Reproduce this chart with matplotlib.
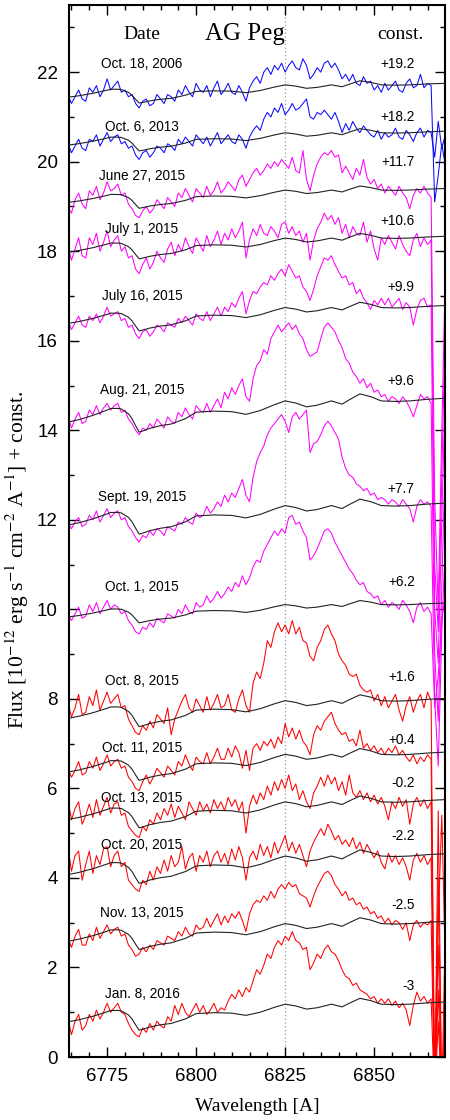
import numpy as np
import matplotlib
matplotlib.use("Agg")
import matplotlib.pyplot as plt
from matplotlib.ticker import MultipleLocator

plt.rcParams['mathtext.fontset'] = 'stix'

# ---------------- data ----------------
dates = ["Oct. 18, 2006", "Oct. 6, 2013", "June 27, 2015", "July 1, 2015",
         "July 16, 2015", "Aug. 21, 2015", "Sept. 19, 2015", "Oct. 1, 2015",
         "Oct. 8, 2015", "Oct. 11, 2015", "Oct. 13, 2015", "Oct. 20, 2015",
         "Nov. 13, 2015", "Jan. 8, 2016"]
consts = ["+19.2", "+18.2", "+11.7", "+10.6", "+9.9", "+9.6", "+7.7", "+6.2",
          "+1.6", "+0.4", "-0.2", "-2.2", "-2.5", "-3"]
colors = ["#0a0aff", "#0a0aff"] + ["#ff00ff"] * 6 + ["#ff0000"] * 6
date_y = [22.19, 20.78, 19.69, 18.5, 17.0, 14.9, 12.5, 10.49, 8.39, 6.91, 5.79, 4.74, 3.22, 1.41]
const_y = [22.19, 21.0, 20.0, 18.68, 17.2, 15.1, 12.68, 10.6, 8.48, 7.09, 6.11, 4.94, 3.4, 1.59]

wl_start = 6764  # first wavelength sample, 1 A step

s2006 = ([21.5, 21.3, 21.45, 21.6, 21.4, 21.35, 21.65, 21.55, 21.7, 21.45, 21.6, 21.85, 21.6]
         + [21.7, 21.8, 21.55, 21.6, 21.45, 21.5, 21.3, 21.2, 21.35, 21.4, 21.25, 21.3, 21.5]
         + [21.4, 21.3, 21.5, 21.45, 21.35, 21.6, 21.5, 21.7, 21.55, 21.45, 21.75, 21.6, 21.55, 21.7, 21.45, 21.65, 21.8, 21.5]
         + [21.6, 21.75, 21.55, 21.5, 21.7, 21.55, 21.35, 21.65, 21.8, 21.9, 21.75, 22.0, 22.1, 21.95, 22.15,
            22.05, 22.2, 22.0, 22.15, 22.25, 22.1, 22.05, 22.3, 22.15, 21.85, 21.95, 22.1, 22.0, 22.2, 22.25,
            22.1, 22.2, 22.05, 21.85, 21.95, 21.8, 21.95, 21.75, 21.7, 21.9, 21.75, 21.8, 21.6, 21.7, 21.55]
         + [21.75, 21.6, 21.7, 21.8, 21.6, 21.55, 21.75, 21.85, 21.65, 21.7, 21.95, 21.65, 21.75, 21.7]
         + [19.1, 19.7, 20.4, 19.9])

s2013 = ([20.4, 20.2, 20.35, 20.5, 20.3, 20.25, 20.5, 20.45, 20.6, 20.35, 20.5, 20.65, 20.45]
         + [20.55, 20.6, 20.4, 20.45, 20.3, 20.35, 20.15, 20.05, 20.2, 20.25, 20.1, 20.2, 20.35]
         + [20.3, 20.2, 20.4, 20.35, 20.25, 20.5, 20.4, 20.55, 20.45, 20.35, 20.6, 20.5, 20.4, 20.55, 20.35, 20.5, 20.65, 20.4]
         + [20.5, 20.6, 20.45, 20.4, 20.6, 20.5, 20.3, 20.55, 20.7, 20.8, 20.7, 20.95, 21.1, 21.0, 21.2,
            21.1, 21.3, 21.05, 21.15, 21.3, 21.15, 21.2, 21.3, 21.4, 21.0, 20.95, 21.1, 21.05, 21.15, 21.05,
            20.95, 21.1, 20.9, 20.65, 20.85, 20.7, 20.9, 20.75, 20.65, 20.8, 20.7, 20.6, 20.55, 20.7, 20.5]
         + [20.65, 20.55, 20.6, 20.75, 20.55, 20.5, 20.7, 20.6, 20.45, 20.65, 20.75, 20.55, 20.7, 20.65]
         + [20.1, 20.9, 20.3, 20.6])

s0627 = ([19.0, 18.85, 19.15, 19.3, 19.05, 18.95, 19.35, 19.25, 19.45, 19.15, 19.3, 19.55, 19.35]
         + [19.4, 19.5, 19.25, 19.3, 19.05, 18.95, 18.8, 18.75, 18.9, 19.0, 18.85, 18.95, 19.15]
         + [19.05, 18.95, 19.2, 19.1, 19.0, 19.3, 19.2, 19.4, 19.25, 19.1, 19.4, 19.3, 19.2, 19.45, 19.25, 19.35, 19.55, 19.3]
         + [19.4, 19.55, 19.45, 19.35, 19.6, 19.7, 19.45, 19.6, 19.75, 19.85, 19.7, 19.8, 19.95, 19.85, 20.0,
            19.9, 20.05, 19.95, 19.85, 20.1, 19.8, 19.75, 20.25, 19.6, 19.35, 19.7, 19.95, 20.1, 20.2, 20.15,
            20.25, 20.1, 20.15, 19.75, 19.9, 19.75, 19.6, 19.85, 19.7, 20.05, 19.65, 19.5, 19.6, 19.4, 19.5]
         + [19.3, 19.45, 19.35, 19.25, 19.45, 19.3, 19.2, 18.95, 19.25, 19.4, 19.3, 19.45, 19.3, 19.2]
         + [12.5, 10.0, 14.0, 17.5])

s0701 = ([18.1, 17.8, 18.05, 18.3, 17.9, 17.85, 18.3, 18.15, 18.4, 18.0, 18.2, 18.45, 18.1]
         + [18.25, 18.35, 18.0, 18.1, 17.85, 17.9, 17.6, 17.5, 17.7, 17.85, 17.6, 17.75, 18.0]
         + [17.85, 17.75, 18.05, 18.2, 17.9, 18.15, 18.0, 18.3, 18.1, 17.95, 18.3, 18.15, 18.0, 18.35, 18.1, 18.25, 18.45, 18.15]
         + [18.4, 18.25, 18.5, 18.3, 18.45, 18.65, 17.85, 18.25, 18.5, 18.35, 18.6, 18.4, 18.35, 18.55, 18.45,
            18.3, 18.6, 18.65, 18.4, 18.55, 18.35, 18.45, 18.2, 18.4, 17.8, 18.25, 18.5, 18.65, 18.85, 18.7,
            18.8, 18.6, 18.75, 18.4, 18.6, 18.3, 18.55, 18.4, 18.35, 18.65, 18.2, 18.45, 18.05, 17.8, 18.3]
         + [18.15, 18.35, 18.2, 18.05, 18.35, 18.15, 18.0, 17.9, 18.25, 18.4, 18.1, 18.3, 18.15, 18.25]
         + [11.0, 9.5, 13.0, 16.5])

s0716 = ([16.45, 16.25, 16.4, 16.55, 16.35, 16.3, 16.55, 16.45, 16.6, 16.4, 16.55, 16.75, 16.55]
         + [16.6, 16.65, 16.45, 16.5, 16.3, 16.35, 16.15, 16.05, 16.2, 16.25, 16.1, 16.2, 16.35]
         + [16.3, 16.2, 16.4, 16.35, 16.3, 16.5, 16.4, 16.55, 16.45, 16.35, 16.6, 16.5, 16.45, 16.65, 16.45, 16.6, 16.75, 16.55]
         + [16.75, 16.65, 16.85, 16.75, 16.95, 17.1, 16.6, 16.9, 17.1, 17.05, 17.2, 17.3, 17.25, 17.45, 17.35,
            17.5, 17.6, 17.45, 17.7, 17.55, 17.4, 17.45, 17.2, 17.1, 16.9, 17.15, 17.45, 17.65, 17.85, 17.8,
            17.9, 17.7, 17.55, 17.4, 17.45, 17.25, 17.3, 17.05, 17.15, 16.95, 16.85, 16.7, 16.9, 16.8, 16.95]
         + [16.8, 16.95, 16.75, 16.85, 16.95, 16.7, 16.85, 16.75, 16.35, 16.7, 16.9, 16.95, 16.75, 16.8]
         + [10.0, 8.8, 12.0, 15.0])

s0821 = ([14.3, 14.05, 14.25, 14.4, 14.15, 14.2, 14.45, 14.35, 14.55, 14.35, 14.5, 14.6, 14.45]
         + [14.55, 14.6, 14.4, 14.45, 14.25, 14.15, 14.0, 13.9, 14.05, 14.0, 14.15, 14.05, 14.25]
         + [14.15, 14.05, 14.3, 14.2, 14.15, 14.4, 14.3, 14.5, 14.35, 14.25, 14.55, 14.45, 14.4, 14.6, 14.4, 14.55, 14.7, 14.5]
         + [14.85, 14.7, 14.95, 14.8, 15.0, 15.15, 14.75, 14.65, 15.15, 15.45, 15.55, 15.8, 15.7, 16.05, 16.2,
            16.35, 16.2, 16.3, 16.4, 16.25, 16.35, 16.15, 16.05, 15.8, 15.65, 15.7, 15.75, 16.05, 16.3, 16.4,
            16.3, 16.2, 16.0, 15.85, 15.6, 15.5, 15.3, 15.2, 15.05, 15.15, 14.95, 15.05, 14.85, 14.9, 14.75]
         + [14.8, 14.65, 14.75, 14.7, 14.6, 14.75, 14.65, 14.5, 14.3, 14.55, 14.8, 14.7, 14.75, 14.6]
         + [9.0, 7.5, 10.5, 13.5])

s0919 = ([11.95, 11.8, 11.95, 12.05, 11.85, 11.9, 12.1, 12.0, 12.2, 11.95, 12.1, 12.25, 12.05]
         + [12.15, 12.2, 12.0, 12.05, 11.85, 11.75, 11.6, 11.5, 11.65, 11.6, 11.75, 11.65, 11.8]
         + [11.75, 11.65, 11.85, 11.8, 11.75, 11.95, 11.9, 12.05, 11.95, 11.9, 12.15, 12.05, 12.1, 12.3, 12.15, 12.25, 12.4, 12.3]
         + [12.55, 12.4, 12.6, 12.5, 12.7, 12.9, 12.55, 12.4, 12.95, 13.3, 13.5, 13.65, 13.9, 14.05, 14.15,
            14.25, 14.35, 14.2, 13.95, 14.3, 14.4, 14.25, 14.35, 14.45, 13.5, 13.7, 13.75, 13.9, 14.1, 14.2,
            14.1, 13.95, 13.8, 13.4, 13.15, 13.0, 12.95, 12.8, 12.75, 12.65, 12.7, 12.55, 12.6, 12.45, 12.5]
         + [12.45, 12.35, 12.45, 12.4, 12.3, 12.45, 12.35, 12.25, 11.95, 12.3, 12.45, 12.35, 12.4, 12.3]
         + [8.0, 6.5, 9.5, 11.5])

s1001 = ([9.9, 9.75, 9.9, 10.05, 9.8, 9.85, 10.1, 9.95, 10.15, 9.9, 10.05, 10.2, 10.0]
         + [10.1, 10.05, 9.9, 9.95, 9.75, 9.65, 9.5, 9.45, 9.6, 9.55, 9.7, 9.6, 9.8]
         + [9.75, 9.7, 9.9, 9.85, 9.8, 10.0, 9.9, 10.1, 9.95, 9.9, 10.15, 10.05, 10.1, 10.3, 10.15, 10.25, 10.4, 10.25]
         + [10.35, 10.5, 10.4, 10.6, 10.5, 10.75, 10.55, 10.7, 10.95, 11.1, 11.05, 11.3, 11.45, 11.6, 11.75,
            11.65, 11.8, 11.7, 12.05, 12.1, 11.9, 11.95, 11.75, 11.6, 11.1, 11.2, 11.35, 11.55, 11.75, 11.8,
            11.7, 11.5, 11.35, 11.2, 11.05, 10.9, 10.8, 10.65, 10.55, 10.6, 10.4, 10.35, 10.25, 10.3, 10.1]
         + [10.2, 10.05, 10.15, 10.1, 10.0, 10.2, 10.1, 9.95, 9.7, 10.05, 10.15, 9.95, 10.05, 9.9]
         + [7.8, 8.5, 9.8, 10.3])

s1008 = ([7.9, 7.6, 7.8, 8.1, 7.65, 7.7, 8.05, 7.85, 8.2, 7.75, 7.95, 8.15, 7.9]
         + [8.0, 8.1, 7.8, 7.85, 7.55, 7.4, 7.25, 7.2, 7.4, 7.3, 7.5, 7.35, 7.65]
         + [7.55, 7.45, 7.8, 7.2, 7.55, 7.75, 7.95, 8.1, 7.8, 7.7, 8.0, 7.85, 7.7, 8.05, 7.75, 7.9, 8.1, 7.8]
         + [7.85, 8.1, 7.75, 7.7, 8.0, 8.2, 7.85, 7.7, 8.35, 8.6, 8.45, 8.8, 9.3, 9.15, 9.5,
            9.7, 9.5, 9.65, 9.45, 9.75, 9.45, 9.6, 9.3, 9.25, 8.95, 8.85, 9.15, 9.3, 9.55, 9.65,
            9.45, 9.3, 9.0, 8.85, 8.75, 8.55, 8.5, 8.55, 8.3, 8.2, 8.15, 8.2, 7.95, 8.1, 7.85]
         + [8.05, 7.8, 7.95, 8.1, 7.75, 7.5, 7.85, 8.05, 7.7, 7.95, 8.1, 7.8, 8.15, 7.95]
         + [-1.0, 5.5, -1.0, 3.0])

s1011 = ([6.45, 6.25, 6.4, 6.6, 6.3, 6.35, 6.6, 6.45, 6.7, 6.4, 6.55, 6.75, 6.5]
         + [6.6, 6.65, 6.45, 6.5, 6.25, 6.15, 6.0, 5.95, 6.15, 6.3, 6.1, 6.25, 6.45]
         + [6.35, 6.25, 6.5, 6.4, 6.3, 6.6, 6.5, 6.75, 6.55, 6.4, 6.7, 6.6, 6.55, 6.8, 6.55, 6.7, 6.9, 6.65]
         + [6.65, 6.9, 6.7, 6.95, 6.8, 6.45, 6.85, 6.4, 6.9, 7.0, 6.85, 7.05, 6.95, 7.1, 6.9,
            7.15, 7.0, 7.45, 7.15, 7.35, 7.1, 7.3, 7.05, 6.95, 6.75, 7.2, 7.4, 7.3, 7.5, 7.6,
            7.7, 7.45, 7.3, 7.2, 7.25, 7.05, 7.1, 6.95, 7.3, 6.9, 7.0, 6.85, 6.95, 6.8, 6.9]
         + [6.75, 6.9, 6.8, 6.95, 6.75, 6.85, 6.7, 6.6, 6.75, 6.55, 6.7, 6.6, 6.75, 6.65]
         + [-1.0, 4.0, -1.0, 1.5])

s1013 = ([5.75, 5.3, 5.55, 5.7, 5.2, 5.4, 5.65, 5.35, 5.75, 5.4, 5.6, 5.8, 5.45]
         + [5.65, 5.7, 5.4, 5.45, 5.15, 5.05, 4.95, 4.9, 5.15, 5.05, 5.3, 5.2, 5.45]
         + [5.3, 5.55, 5.4, 5.65, 5.35, 5.6, 5.45, 5.3, 5.7, 5.55, 5.4, 5.7, 5.5, 5.65, 5.45, 5.75, 5.55, 5.7]
         + [5.5, 5.8, 5.6, 5.75, 5.5, 5.7, 5.0, 5.6, 5.85, 5.65, 5.9, 5.75, 6.05, 5.85, 6.15,
            5.95, 6.2, 6.0, 6.3, 5.95, 6.1, 5.75, 5.95, 5.7, 5.55, 5.9, 6.05, 6.25, 6.05, 6.3,
            6.1, 6.25, 5.95, 6.15, 5.85, 6.3, 5.9, 5.8, 5.95, 5.75, 5.9, 5.7, 5.85, 5.65, 5.8]
         + [5.6, 5.3, 5.7, 5.55, 5.8, 5.6, 5.75, 5.2, 5.65, 5.8, 5.6, 5.75, 5.55, 5.7]
         + [-1.0, 3.0, 5.4, 2.0])

s1020 = ([4.7, 4.15, 4.5, 4.6, 3.95, 4.3, 4.6, 4.1, 4.5, 4.3, 4.65, 4.7, 4.25]
         + [4.5, 4.6, 4.25, 4.35, 3.95, 3.85, 3.75, 3.7, 3.95, 3.85, 4.15, 3.95, 4.25]
         + [4.1, 4.4, 4.15, 4.5, 4.25, 4.35, 4.7, 4.2, 4.45, 4.55, 4.15, 4.5, 4.35, 4.6, 4.25, 4.5, 4.6, 4.35]
         + [4.55, 4.3, 4.65, 4.4, 4.7, 4.45, 3.95, 4.45, 4.6, 4.4, 4.75, 4.5, 4.7, 4.45, 4.8,
            4.55, 4.75, 4.95, 4.6, 4.8, 4.55, 4.75, 4.5, 4.25, 4.6, 4.8, 4.95, 5.1, 4.95, 5.2,
            5.05, 4.85, 4.95, 4.75, 4.85, 4.7, 4.9, 4.65, 4.8, 4.55, 4.75, 4.6, 4.45, 4.6, 4.35]
         + [4.2, 4.55, 4.35, 4.5, 4.3, 4.45, 4.25, 3.95, 4.4, 4.55, 4.35, 4.5, 4.3, 4.45]
         + [-1.0, 2.5, -1.0, 1.0])

s1113 = ([2.65, 2.45, 2.7, 2.85, 2.5, 2.5, 2.75, 2.6, 2.9, 2.65, 2.8, 2.95, 2.75]
         + [2.85, 2.9, 2.7, 2.75, 2.5, 2.4, 2.25, 2.3, 2.45, 2.35, 2.5, 2.4, 2.6]
         + [2.55, 2.5, 2.7, 2.65, 2.6, 2.8, 2.7, 2.9, 2.75, 2.7, 2.95, 2.85, 2.9, 3.1, 2.9, 3.05, 3.2, 2.95]
         + [3.15, 3.0, 3.2, 3.1, 3.25, 3.05, 2.8, 3.2, 3.4, 3.5, 3.45, 3.6, 3.5, 3.7, 3.55,
            3.75, 3.85, 3.75, 3.9, 3.8, 3.85, 3.65, 3.6, 3.55, 3.35, 3.6, 3.8, 3.95, 4.1, 4.15,
            4.05, 3.85, 3.75, 3.6, 3.7, 3.5, 3.55, 3.4, 3.45, 3.3, 3.35, 3.2, 3.25, 3.1, 3.15]
         + [3.0, 3.1, 2.95, 3.05, 3.0, 2.85, 3.0, 2.6, 2.95, 3.05, 2.9, 3.0, 2.95, 3.05]
         + [-1.0, 1.5, -1.0, 0.5])

s0108 = ([0.85, 0.5, 0.8, 0.95, 0.6, 0.7, 0.95, 0.8, 1.05, 0.85, 1.0, 1.2, 1.0]
         + [1.1, 1.2, 1.0, 0.95, 0.75, 0.6, 0.5, 0.45, 0.65, 0.55, 0.75, 0.6, 0.8]
         + [0.7, 0.65, 0.9, 0.8, 1.15, 0.95, 1.2, 1.0, 0.9, 1.05, 1.2, 1.0, 1.15, 0.95, 1.05, 1.2, 1.0, 1.1]
         + [1.05, 1.25, 1.4, 1.3, 1.5, 1.35, 1.55, 1.45, 1.7, 1.95, 1.85, 2.05, 2.3, 2.2, 2.45,
            2.6, 2.5, 2.7, 2.6, 2.8, 2.6, 2.55, 2.4, 2.45, 1.95, 2.1, 2.3, 2.2, 2.4, 2.5,
            2.35, 2.3, 2.15, 1.95, 1.8, 1.75, 1.6, 1.65, 1.5, 1.45, 1.4, 1.3, 1.35, 1.2, 1.3]
         + [1.2, 1.3, 1.15, 1.25, 1.1, 1.2, 1.05, 0.7, 1.15, 1.45, 1.25, 1.35, 1.2, 1.3]
         + [-1.0, 0.8, -1.0, 1.6])

spectra = [s2006, s2013, s0627, s0701, s0716, s0821, s0919, s1001,
           s1008, s1011, s1013, s1020, s1113, s0108]

# black comparison (template) spectrum: shape knots, with level and depth per date
tmpl_wl = [6764, 6765, 6767, 6769, 6771, 6773, 6775, 6776, 6778, 6779, 6781, 6782, 6783, 6784, 6785,
           6787, 6790, 6793, 6797, 6800, 6805, 6810, 6814, 6818, 6822, 6825, 6828, 6831, 6834,
           6838, 6841, 6843, 6846, 6849, 6852, 6856, 6860, 6865, 6870]
tmpl_val = [-0.01, 0.0, 0.03, 0.07, 0.11, 0.16, 0.21, 0.24, 0.24, 0.23, 0.14, 0.05, -0.08, -0.2, -0.18,
            -0.13, -0.08, -0.05, 0.05, 0.17, 0.19, 0.18, 0.13, 0.2, 0.31, 0.38, 0.34, 0.27, 0.3,
            0.38, 0.32, 0.4, 0.51, 0.46, 0.38, 0.37, 0.38, 0.41, 0.43]
tmpl_base = [21.45, 20.38, 19.1, 17.99, 16.4, 14.2, 11.9, 9.84, 7.58, 6.38, 5.32, 4.09, 2.6, 0.8]
tmpl_amp = [0.7, 0.7, 0.7, 0.8, 0.9, 1.2, 1.1, 0.7, 1.0, 1.0, 1.0, 1.05, 1.0, 1.0]

# ---------------- figure ----------------
fig = plt.figure(figsize=(4.5, 11.2), dpi=100)
ax = fig.add_axes([69/450, 1 - 1057/1120, (445-69)/450, (1057-5)/1120])

ax.axvline(6825, color="#9a9a9a", lw=0.9, ls=(0, (1, 2)), zorder=1)

for s, c in zip(spectra, colors):
    wl = wl_start + np.arange(len(s))
    ax.plot(wl, s, color=c, lw=0.75, zorder=2)

tw = np.array(tmpl_wl)
tv = np.array(tmpl_val)
for b, a in zip(tmpl_base, tmpl_amp):
    ax.plot(tw, b + a * tv, color="#222222", lw=0.8, zorder=3)

sans = "Liberation Sans"
serif = "Liberation Serif"
for d, y in zip(dates, date_y):
    ax.text(6784.8, y, d, ha="center", va="center", fontsize=9.8, family=sans, zorder=4)
for cst, y in zip(consts, const_y):
    ax.text(6861.4, y, cst, ha="right", va="center", fontsize=9.8, family=sans, zorder=4)

ax.text(6784.8, 22.85, "Date", ha="center", va="center", fontsize=14, family=serif)
ax.text(6813.6, 22.85, "AG Peg", ha="center", va="center", fontsize=18, family=serif)
ax.text(6857.4, 22.85, "const.", ha="center", va="center", fontsize=14, family=serif)

ax.set_xlim(6764.3, 6869.9)
ax.set_ylim(0, 23.5)
ax.xaxis.set_major_locator(MultipleLocator(25))
ax.xaxis.set_minor_locator(MultipleLocator(5))
ax.yaxis.set_major_locator(MultipleLocator(2))
ax.yaxis.set_minor_locator(MultipleLocator(1))
ax.tick_params(which="both", direction="in", top=True, right=True, width=1.0)
ax.tick_params(which="major", length=7, pad=8, labelsize=13.5)
ax.tick_params(which="minor", length=3.5)
for lab in ax.get_xticklabels() + ax.get_yticklabels():
    lab.set_family(sans)
for sp in ax.spines.values():
    sp.set_linewidth(1.5)

ax.set_xlabel("Wavelength [A]", fontsize=14, family=serif, labelpad=9)
fig.text(17/450, 1 - 560/1120,
         r"Flux [10$^{-12}$ erg s$^{-1}$ cm$^{-2}$ A$^{-1}$] + const.",
         rotation=90, ha="center", va="center", fontsize=15.5, family=serif)

fig.savefig("out.png", dpi=100)
